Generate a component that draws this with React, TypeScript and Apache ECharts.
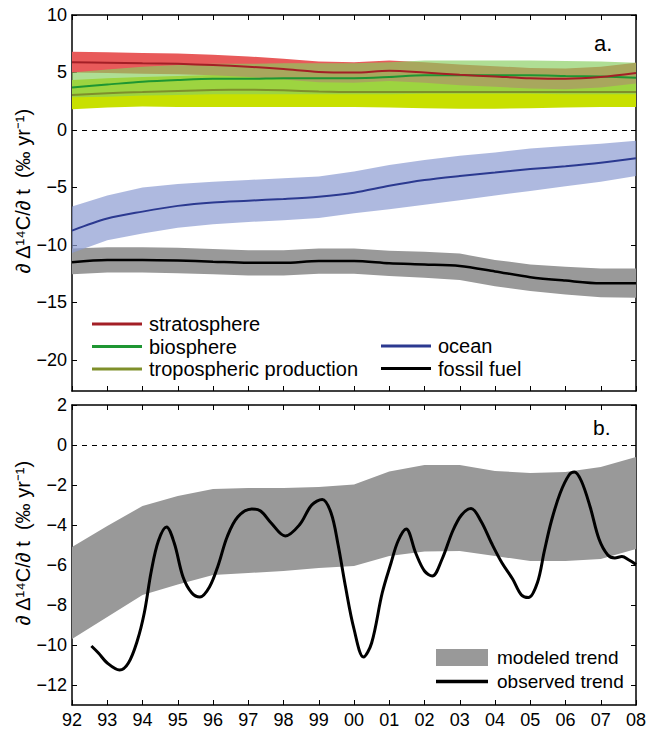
import React, { useEffect, useRef } from "react";
import * as echarts from "echarts";

// ---------- data ----------
const years = [1992, 1993, 1994, 1995, 1996, 1997, 1998, 1999, 2000, 2001, 2002, 2003, 2004, 2005, 2006, 2007, 2008];

const strat = [5.9, 5.85, 5.8, 5.75, 5.65, 5.5, 5.3, 5.05, 5.0, 5.15, 5.0, 4.8, 4.65, 4.5, 4.45, 4.6, 4.95];
const stratHi = [6.8, 6.75, 6.7, 6.65, 6.55, 6.4, 6.2, 5.95, 5.9, 6.05, 5.9, 5.7, 5.55, 5.4, 5.35, 5.5, 5.85];
const stratLo = [5.0, 4.95, 4.9, 4.85, 4.75, 4.6, 4.4, 4.15, 4.1, 4.25, 4.1, 3.9, 3.75, 3.6, 3.55, 3.7, 4.05];

const bio = [3.7, 3.95, 4.2, 4.35, 4.45, 4.45, 4.5, 4.5, 4.5, 4.6, 4.75, 4.75, 4.75, 4.75, 4.7, 4.65, 4.55];
const bioHi = [5.0, 5.25, 5.5, 5.65, 5.75, 5.75, 5.8, 5.8, 5.8, 5.9, 6.05, 6.05, 6.05, 6.05, 6.0, 5.95, 5.85];
const bioLo = [2.85, 2.9, 3.0, 3.05, 3.1, 3.1, 3.1, 3.1, 3.1, 3.1, 3.15, 3.15, 3.15, 3.15, 3.1, 3.1, 3.1];

const trop = [3.05, 3.2, 3.3, 3.4, 3.48, 3.5, 3.45, 3.35, 3.3, 3.3, 3.3, 3.3, 3.3, 3.3, 3.3, 3.3, 3.3];
const tropHi = [4.35, 4.5, 4.6, 4.7, 4.78, 4.8, 4.75, 4.65, 4.6, 4.6, 4.6, 4.6, 4.6, 4.6, 4.6, 4.6, 4.6];
const tropLo = [1.8, 1.95, 2.05, 2.0, 2.0, 2.0, 2.0, 2.0, 2.0, 1.95, 1.9, 1.85, 1.85, 1.9, 1.95, 2.0, 2.0];

const ocean = [-8.75, -7.7, -7.1, -6.6, -6.3, -6.15, -6.0, -5.8, -5.45, -4.85, -4.35, -4.0, -3.7, -3.4, -3.15, -2.85, -2.45];
const oceanHi = [-6.65, -5.7, -5.0, -4.7, -4.5, -4.35, -4.2, -4.05, -3.6, -3.05, -2.6, -2.25, -1.95, -1.6, -1.4, -1.2, -0.93];
const oceanLo = [-10.7, -9.6, -9.0, -8.5, -8.2, -8.0, -7.85, -7.65, -7.25, -6.9, -6.5, -6.1, -5.7, -5.3, -4.9, -4.5, -4.0];

const fossil = [-11.5, -11.3, -11.3, -11.35, -11.45, -11.55, -11.55, -11.4, -11.4, -11.6, -11.7, -11.83, -12.3, -12.8, -13.1, -13.33, -13.33];
const fossilHi = [-10.3, -10.2, -10.2, -10.25, -10.35, -10.45, -10.45, -10.3, -10.3, -10.5, -10.6, -10.75, -11.3, -11.7, -11.9, -12.05, -12.05];
const fossilLo = [-12.55, -12.4, -12.4, -12.45, -12.55, -12.65, -12.65, -12.5, -12.5, -12.7, -12.85, -13.05, -13.6, -14.0, -14.3, -14.55, -14.6];

const modelHi = [-5.1, -4.05, -3.05, -2.55, -2.2, -2.15, -2.15, -2.1, -1.97, -1.33, -1.0, -1.0, -1.3, -1.4, -1.35, -1.1, -0.6];
const modelLo = [-9.7, -8.6, -7.5, -6.97, -6.5, -6.4, -6.3, -6.15, -6.05, -5.55, -5.33, -5.3, -5.55, -5.8, -5.8, -5.7, -5.2];

const obsYears = [1992.55, 1992.75, 1993.0, 1993.35, 1993.6, 1993.85, 1994.05, 1994.25, 1994.45, 1994.68, 1994.9, 1995.15, 1995.4, 1995.63, 1995.9, 1996.15, 1996.4, 1996.7, 1997.1, 1997.35, 1997.65, 1998.05, 1998.45, 1998.8, 1999.1, 1999.35, 1999.55, 1999.75, 2000.0, 2000.27, 2000.5, 2000.8, 2001.05, 2001.25, 2001.48, 2001.75, 2002.0, 2002.22, 2002.5, 2002.8, 2003.05, 2003.32, 2003.6, 2003.9, 2004.2, 2004.5, 2004.75, 2004.95, 2005.2, 2005.4, 2005.6, 2005.85, 2006.1, 2006.25, 2006.45, 2006.7, 2006.95, 2007.2, 2007.4, 2007.6, 2007.8, 2008.0];
const obsValues = [-10.05, -10.4, -10.9, -11.25, -10.9, -9.8, -8.4, -6.3, -4.8, -4.1, -4.9, -6.6, -7.4, -7.6, -7.1, -6.0, -4.6, -3.6, -3.2, -3.3, -3.9, -4.55, -4.0, -3.0, -2.72, -3.4, -5.0, -7.0, -9.2, -10.6, -9.9, -7.4, -5.9, -4.8, -4.2, -5.4, -6.3, -6.55, -5.7, -4.3, -3.5, -3.18, -3.8, -4.9, -5.9, -6.7, -7.5, -7.63, -6.9, -5.3, -3.8, -2.4, -1.5, -1.35, -1.8, -3.1, -4.7, -5.5, -5.65, -5.58, -5.75, -5.97];

const topTicks = [10, 5, 0, -5, -10, -15, -20];
const bottomTicks = [2, 0, -2, -4, -6, -8, -10, -12];

// ---------- helpers ----------
const FONT = '"Liberation Sans", Arial, Helvetica, sans-serif';
const fmtY = (v: number) => (v < 0 ? "\u2212" + Math.abs(v) : String(v));
const fmtX = (v: number) => String(Math.round(v) % 100).padStart(2, "0");
const pairs = (xs: number[], ys: number[]) => xs.map((x, i) => [x, ys[i]]);

function bandSeries(name: string, lo: number[], hi: number[], fill: string, axisIdx: number, z: number) {
  return {
    type: "custom",
    name,
    xAxisIndex: axisIdx,
    yAxisIndex: axisIdx,
    z,
    silent: true,
    itemStyle: { color: fill },
    encode: { x: 0, y: [1, 2] },
    data: years.map((y, i) => [y, lo[i], hi[i]]),
    renderItem: (params: any, api: any) => {
      if (params.dataIndex !== 0) return null;
      const pts: number[][] = [];
      for (let i = 0; i < years.length; i++) pts.push(api.coord([years[i], hi[i]]));
      for (let i = years.length - 1; i >= 0; i--) pts.push(api.coord([years[i], lo[i]]));
      return { type: "polygon", shape: { points: pts }, style: { fill } };
    },
  };
}

function lineSeries(name: string, data: number[][], color: string, width: number, axisIdx: number, extra: any = {}) {
  return {
    type: "line",
    name,
    xAxisIndex: axisIdx,
    yAxisIndex: axisIdx,
    data,
    z: 5,
    smooth: 0.3,
    symbol: "none",
    showSymbol: false,
    color,
    itemStyle: { color },
    lineStyle: { color, width },
    ...extra,
  };
}

const axisLine = { show: true, onZero: false, lineStyle: { color: "#000", width: 1.5 } };
const tickIn = { show: true, inside: true, length: 5, lineStyle: { color: "#000", width: 1 } };
const labelStyle = { color: "#000", fontSize: 18, fontFamily: FONT };

function xAxis(gridIndex: number, position: string, showLabel: boolean) {
  return {
    type: "value",
    gridIndex,
    position,
    min: 1992,
    max: 2008,
    interval: 1,
    axisLine,
    axisTick: tickIn,
    splitLine: { show: false },
    axisLabel: { show: showLabel, ...labelStyle, lineHeight: 16, margin: 7, formatter: fmtX },
  };
}

function yAxis(gridIndex: number, position: string, min: number, max: number, ticks: number[], showLabel: boolean) {
  const base: any = {
    type: "value",
    gridIndex,
    position,
    min,
    max,
    axisLine,
    axisTick: { ...tickIn, customValues: ticks },
    splitLine: { show: false },
    axisLabel: { show: showLabel, ...labelStyle, margin: 5, formatter: fmtY, customValues: ticks },
  };
  if (showLabel) {
    base.name = "\u2202 \u0394\u00b9\u2074C/\u2202 t  (\u2030 yr\u207b\u00b9)";
    base.nameLocation = "middle";
    base.nameRotate = 90;
    base.nameGap = 39;
    base.nameMoveOverlap = false;
    base.nameTextStyle = { color: "#000", fontSize: 20, fontFamily: FONT, padding: [0, 0, 0, 24] };
  }
  return base;
}

const zeroLine = {
  silent: true,
  symbol: "none",
  label: { show: false },
  lineStyle: { color: "#000", width: 1, type: [5, 5] },
  data: [{ yAxis: 0 }],
};

export default function App() {
  const ref = useRef<HTMLDivElement>(null);
  useEffect(() => {
    if (!ref.current) return;
    const chart = echarts.init(ref.current, null, { renderer: "svg" });
    const option: any = {
      animation: false,
      backgroundColor: "#fff",
      textStyle: { fontFamily: FONT },
      grid: [
        { left: 72, width: 564, top: 15, height: 376, outerBoundsMode: "none", containLabel: false },
        { left: 72, width: 564, top: 405, height: 300, outerBoundsMode: "none", containLabel: false },
      ],
      xAxis: [xAxis(0, "bottom", false), xAxis(0, "top", false), xAxis(1, "bottom", true), xAxis(1, "top", false)],
      yAxis: [
        yAxis(0, "left", -22.7, 10, topTicks, true),
        yAxis(0, "right", -22.7, 10, topTicks, false),
        yAxis(1, "left", -13, 2, bottomTicks, true),
        yAxis(1, "right", -13, 2, bottomTicks, false),
      ],
      legend: [
        {
          data: ["stratosphere", "biosphere", "tropospheric production"],
          orient: "vertical",
          left: 92,
          top: 314,
          icon: "rect",
          itemWidth: 50,
          itemHeight: 3,
          itemGap: 2.5,
          padding: 0,
          textStyle: { color: "#000", fontSize: 20, lineHeight: 20, fontFamily: FONT, padding: [0, 0, 0, 2] },
        },
        {
          data: ["ocean", "fossil fuel"],
          orient: "vertical",
          left: 381,
          top: 336,
          icon: "rect",
          itemWidth: 50,
          itemHeight: 3,
          itemGap: 2.5,
          padding: 0,
          textStyle: { color: "#000", fontSize: 20, lineHeight: 20, fontFamily: FONT, padding: [0, 0, 0, 2] },
        },
        {
          data: ["modeled trend"],
          orient: "vertical",
          left: 436,
          top: 648,
          icon: "rect",
          itemWidth: 52,
          itemHeight: 17,
          padding: 0,
          textStyle: { color: "#000", fontSize: 19, lineHeight: 19, fontFamily: FONT, padding: [0, 0, 0, 4] },
        },
        {
          data: ["observed trend"],
          orient: "vertical",
          left: 436,
          top: 672,
          icon: "rect",
          itemWidth: 52,
          itemHeight: 3.5,
          padding: 0,
          textStyle: { color: "#000", fontSize: 19, lineHeight: 19, fontFamily: FONT, padding: [0, 0, 0, 4] },
        },
      ],
      graphic: [
        { type: "text", left: 594, top: 32, style: { text: "a.", font: `22px ${FONT}`, fill: "#000" } },
        { type: "text", left: 593, top: 417, style: { text: "b.", font: `21px ${FONT}`, fill: "#000" } },
      ],
      series: [
        bandSeries("fossil band", fossilLo, fossilHi, "#999999", 0, 1),
        bandSeries("ocean band", oceanLo, oceanHi, "rgba(140,155,210,0.7)", 0, 1),
        bandSeries("trop band", tropLo, tropHi, "#c8e000", 0, 1),
        bandSeries("strat band", stratLo, stratHi, "#e85a5a", 0, 1),
        bandSeries("bio band", bioLo, bioHi, "rgba(136,206,96,0.67)", 0, 1),
        lineSeries("tropospheric production", pairs(years, trop), "#7f8f2a", 2, 0),
        lineSeries("biosphere", pairs(years, bio), "#1e9632", 2, 0),
        lineSeries("stratosphere", pairs(years, strat), "#a31f26", 2, 0, { markLine: zeroLine }),
        lineSeries("ocean", pairs(years, ocean), "#2b3990", 2, 0),
        lineSeries("fossil fuel", pairs(years, fossil), "#000000", 2.5, 0),
        bandSeries("modeled trend", modelLo, modelHi, "#999999", 2, 1),
        lineSeries("observed trend", pairs(obsYears, obsValues), "#000000", 3, 2, { smooth: 0.35, markLine: zeroLine }),
      ],
    };
    chart.setOption(option);
    return () => chart.dispose();
  }, []);
  return <div ref={ref} style={{ position: "fixed", left: 0, top: 0, width: 650, height: 730, background: "#fff" }} />;
}
